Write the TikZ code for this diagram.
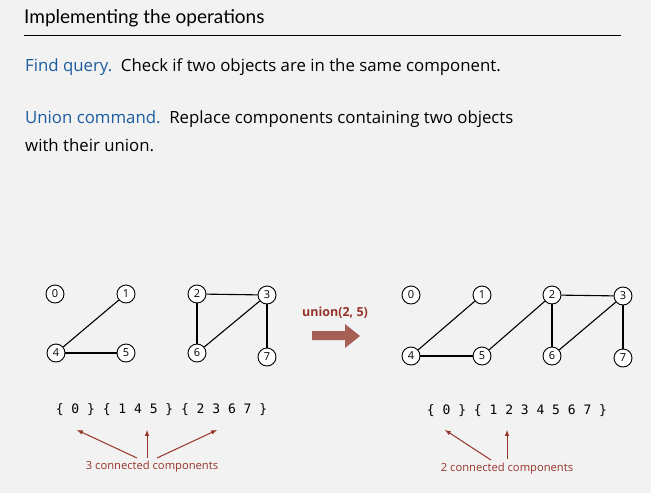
\documentclass[tikz,border=0pt]{standalone}
\usepackage{fontspec}
\setmainfont{Open Sans}
\newfontfamily\titlefont{Lato}
\newfontfamily\setsfont{DejaVu Sans Mono}
\usepackage{xcolor}
\definecolor{slideback}{RGB}{242,242,242}
\definecolor{slideblue}{RGB}{28,92,160}
\definecolor{slidered}{RGB}{150,52,42}
\definecolor{arrowred}{RGB}{165,95,85}
\usetikzlibrary{positioning}

\tikzset{
	vertex/.style={circle, draw, fill=white, line width=0.9pt, minimum size=18pt, inner sep=0pt, font=\fontsize{11}{11}\selectfont},
	edge/.style={line width=1.1pt},
	bodytext/.style={anchor=west, inner sep=0pt, font=\fontsize{16.8}{19}\selectfont},
	settext/.style={inner sep=0pt, font=\setsfont\fontsize{13}{13}\selectfont},
	complabel/.style={inner sep=1pt, text=slidered, font=\fontsize{11.2}{12}\selectfont},
	comparrow/.style={draw=slidered, line width=1pt, -latex}
}

\begin{document}
\begin{tikzpicture}[x=1pt, y=-1pt]
	\fill[slideback] (0, 0) rectangle (651, 493);
	\useasboundingbox (0, 0) rectangle (651, 493);

	% heading
	\node (title) at (24, 18) [anchor=west, inner sep=0pt, font=\titlefont\fontsize{19}{22}\selectfont] {Implementing the operations};
	\draw[line width=1pt] (24, 35) -- (621, 35);
	\node (find) at (25, 67) [bodytext] {\textcolor{slideblue}{Find query.}\ \ Check if two objects are in the same component.};
	\node (union) at (25, 119) [bodytext] {\textcolor{slideblue}{Union command.}\ \ Replace components containing two objects};
	\node (union2) at (25, 145) [bodytext] {with their union.};

	% graph before
	\node (a0) at (55, 294) [vertex] {0};
	\node (a1) at (126, 294) [vertex] {1};
	\node (a4) at (56, 353) [vertex] {4};
	\node (a5) at (126, 353) [vertex] {5};
	\node (a2) at (197, 294) [vertex] {2};
	\node (a3) at (267, 295) [vertex] {3};
	\node (a6) at (197, 353) [vertex] {6};
	\node (a7) at (267, 357) [vertex] {7};
	\draw[edge] (a1) -- (a4);
	\draw[edge] (a4) -- (a5);
	\draw[edge] (a2) -- (a3);
	\draw[edge] (a2) -- (a6);
	\draw[edge] (a3) -- (a6);
	\draw[edge] (a3) -- (a7);

	% union arrow
	\node (cmd) at (335, 313) [inner sep=0pt, text=slidered, font=\bfseries\fontsize{12.5}{13}\selectfont] {union(2, 5)};
	\fill[arrowred] (312, 331) -- (345, 331) -- (345, 324) -- (360, 336) -- (345, 348) -- (345, 340) -- (312, 340) -- cycle;

	% graph after
	\node (b0) at (411, 295) [vertex] {0};
	\node (b1) at (482, 295) [vertex] {1};
	\node (b2) at (552, 295) [vertex] {2};
	\node (b3) at (623, 296) [vertex] {3};
	\node (b4) at (411, 356) [vertex] {4};
	\node (b5) at (482, 356) [vertex] {5};
	\node (b6) at (552, 356) [vertex] {6};
	\node (b7) at (623, 358) [vertex] {7};
	\draw[edge] (b1) -- (b4);
	\draw[edge] (b4) -- (b5);
	\draw[edge] (b5) -- (b2);
	\draw[edge] (b2) -- (b3);
	\draw[edge] (b2) -- (b6);
	\draw[edge] (b3) -- (b6);
	\draw[edge] (b3) -- (b7);

	% components before
	\node (setsa) at (161.5, 410) [settext] {\{ 0 \} \{ 1 4 5 \} \{ 2 3 6 7 \}};
	\node (compa) at (152, 467) [complabel] {3 connected components};
	\coordinate (ta0) at (77, 430);
	\coordinate (ta1) at (147, 430);
	\coordinate (ta2) at (217, 430);
	\coordinate (fa0) at (137, 458);
	\coordinate (fa1) at (147, 458);
	\coordinate (fa2) at (157, 458);
	\draw[comparrow] (fa0) -- (ta0);
	\draw[comparrow] (fa1) -- (ta1);
	\draw[comparrow] (fa2) -- (ta2);

	% components after
	\node (setsb) at (517, 411) [settext] {\{ 0 \} \{ 1 2 3 4 5 6 7 \}};
	\node (compb) at (507, 469) [complabel] {2 connected components};
	\coordinate (tb0) at (445, 430);
	\coordinate (tb1) at (507, 430);
	\coordinate (fb0) at (491, 460);
	\coordinate (fb1) at (507, 459);
	\draw[comparrow] (fb0) -- (tb0);
	\draw[comparrow] (fb1) -- (tb1);
\end{tikzpicture}
\end{document}
